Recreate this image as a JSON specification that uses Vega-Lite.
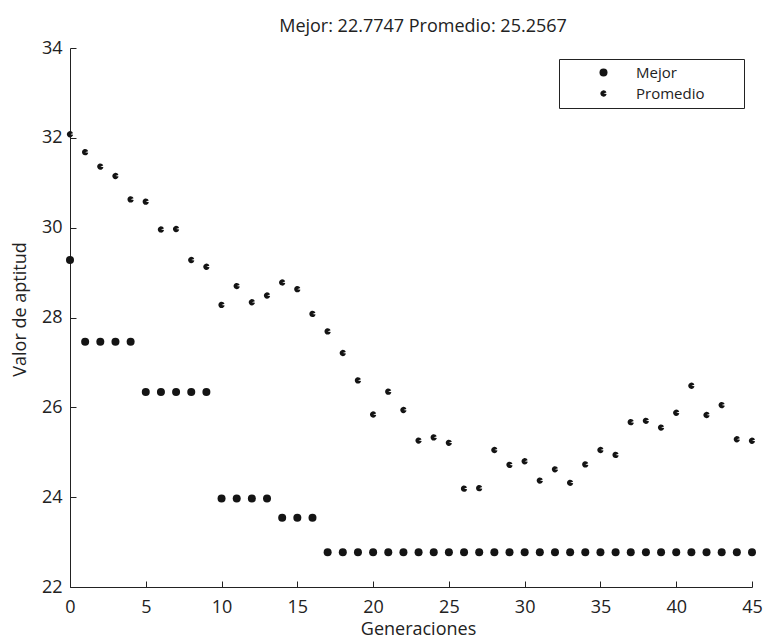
{
  "$schema": "https://vega.github.io/schema/vega-lite/v6.json",
  "autosize": {"type": "none"},
  "width": 682,
  "height": 539,
  "padding": {"left": 70, "top": 48, "right": 11, "bottom": 51},
  "background": "white",
  "title": {
    "text": "Mejor: 22.7747 Promedio: 25.2567",
    "anchor": "middle",
    "dx": 12,
    "offset": 3,
    "font": "Open Sans",
    "fontSize": 18,
    "fontWeight": "normal",
    "color": "#222"
  },
  "data": {
    "values": [
      {"gen": 0, "valor": 29.28, "serie": "Mejor"},
      {"gen": 1, "valor": 27.46, "serie": "Mejor"},
      {"gen": 2, "valor": 27.46, "serie": "Mejor"},
      {"gen": 3, "valor": 27.46, "serie": "Mejor"},
      {"gen": 4, "valor": 27.46, "serie": "Mejor"},
      {"gen": 5, "valor": 26.34, "serie": "Mejor"},
      {"gen": 6, "valor": 26.34, "serie": "Mejor"},
      {"gen": 7, "valor": 26.34, "serie": "Mejor"},
      {"gen": 8, "valor": 26.34, "serie": "Mejor"},
      {"gen": 9, "valor": 26.34, "serie": "Mejor"},
      {"gen": 10, "valor": 23.97, "serie": "Mejor"},
      {"gen": 11, "valor": 23.97, "serie": "Mejor"},
      {"gen": 12, "valor": 23.97, "serie": "Mejor"},
      {"gen": 13, "valor": 23.97, "serie": "Mejor"},
      {"gen": 14, "valor": 23.54, "serie": "Mejor"},
      {"gen": 15, "valor": 23.54, "serie": "Mejor"},
      {"gen": 16, "valor": 23.54, "serie": "Mejor"},
      {"gen": 17, "valor": 22.7747, "serie": "Mejor"},
      {"gen": 18, "valor": 22.7747, "serie": "Mejor"},
      {"gen": 19, "valor": 22.7747, "serie": "Mejor"},
      {"gen": 20, "valor": 22.7747, "serie": "Mejor"},
      {"gen": 21, "valor": 22.7747, "serie": "Mejor"},
      {"gen": 22, "valor": 22.7747, "serie": "Mejor"},
      {"gen": 23, "valor": 22.7747, "serie": "Mejor"},
      {"gen": 24, "valor": 22.7747, "serie": "Mejor"},
      {"gen": 25, "valor": 22.7747, "serie": "Mejor"},
      {"gen": 26, "valor": 22.7747, "serie": "Mejor"},
      {"gen": 27, "valor": 22.7747, "serie": "Mejor"},
      {"gen": 28, "valor": 22.7747, "serie": "Mejor"},
      {"gen": 29, "valor": 22.7747, "serie": "Mejor"},
      {"gen": 30, "valor": 22.7747, "serie": "Mejor"},
      {"gen": 31, "valor": 22.7747, "serie": "Mejor"},
      {"gen": 32, "valor": 22.7747, "serie": "Mejor"},
      {"gen": 33, "valor": 22.7747, "serie": "Mejor"},
      {"gen": 34, "valor": 22.7747, "serie": "Mejor"},
      {"gen": 35, "valor": 22.7747, "serie": "Mejor"},
      {"gen": 36, "valor": 22.7747, "serie": "Mejor"},
      {"gen": 37, "valor": 22.7747, "serie": "Mejor"},
      {"gen": 38, "valor": 22.7747, "serie": "Mejor"},
      {"gen": 39, "valor": 22.7747, "serie": "Mejor"},
      {"gen": 40, "valor": 22.7747, "serie": "Mejor"},
      {"gen": 41, "valor": 22.7747, "serie": "Mejor"},
      {"gen": 42, "valor": 22.7747, "serie": "Mejor"},
      {"gen": 43, "valor": 22.7747, "serie": "Mejor"},
      {"gen": 44, "valor": 22.7747, "serie": "Mejor"},
      {"gen": 45, "valor": 22.7747, "serie": "Mejor"},
      {"gen": 0, "valor": 32.08, "serie": "Promedio"},
      {"gen": 1, "valor": 31.68, "serie": "Promedio"},
      {"gen": 2, "valor": 31.36, "serie": "Promedio"},
      {"gen": 3, "valor": 31.15, "serie": "Promedio"},
      {"gen": 4, "valor": 30.63, "serie": "Promedio"},
      {"gen": 5, "valor": 30.58, "serie": "Promedio"},
      {"gen": 6, "valor": 29.96, "serie": "Promedio"},
      {"gen": 7, "valor": 29.97, "serie": "Promedio"},
      {"gen": 8, "valor": 29.28, "serie": "Promedio"},
      {"gen": 9, "valor": 29.13, "serie": "Promedio"},
      {"gen": 10, "valor": 28.28, "serie": "Promedio"},
      {"gen": 11, "valor": 28.70, "serie": "Promedio"},
      {"gen": 12, "valor": 28.34, "serie": "Promedio"},
      {"gen": 13, "valor": 28.49, "serie": "Promedio"},
      {"gen": 14, "valor": 28.78, "serie": "Promedio"},
      {"gen": 15, "valor": 28.63, "serie": "Promedio"},
      {"gen": 16, "valor": 28.08, "serie": "Promedio"},
      {"gen": 17, "valor": 27.69, "serie": "Promedio"},
      {"gen": 18, "valor": 27.21, "serie": "Promedio"},
      {"gen": 19, "valor": 26.60, "serie": "Promedio"},
      {"gen": 20, "valor": 25.84, "serie": "Promedio"},
      {"gen": 21, "valor": 26.35, "serie": "Promedio"},
      {"gen": 22, "valor": 25.94, "serie": "Promedio"},
      {"gen": 23, "valor": 25.26, "serie": "Promedio"},
      {"gen": 24, "valor": 25.33, "serie": "Promedio"},
      {"gen": 25, "valor": 25.21, "serie": "Promedio"},
      {"gen": 26, "valor": 24.19, "serie": "Promedio"},
      {"gen": 27, "valor": 24.20, "serie": "Promedio"},
      {"gen": 28, "valor": 25.05, "serie": "Promedio"},
      {"gen": 29, "valor": 24.72, "serie": "Promedio"},
      {"gen": 30, "valor": 24.80, "serie": "Promedio"},
      {"gen": 31, "valor": 24.37, "serie": "Promedio"},
      {"gen": 32, "valor": 24.62, "serie": "Promedio"},
      {"gen": 33, "valor": 24.32, "serie": "Promedio"},
      {"gen": 34, "valor": 24.73, "serie": "Promedio"},
      {"gen": 35, "valor": 25.05, "serie": "Promedio"},
      {"gen": 36, "valor": 24.94, "serie": "Promedio"},
      {"gen": 37, "valor": 25.67, "serie": "Promedio"},
      {"gen": 38, "valor": 25.70, "serie": "Promedio"},
      {"gen": 39, "valor": 25.55, "serie": "Promedio"},
      {"gen": 40, "valor": 25.88, "serie": "Promedio"},
      {"gen": 41, "valor": 26.48, "serie": "Promedio"},
      {"gen": 42, "valor": 25.83, "serie": "Promedio"},
      {"gen": 43, "valor": 26.05, "serie": "Promedio"},
      {"gen": 44, "valor": 25.29, "serie": "Promedio"},
      {"gen": 45, "valor": 25.2567, "serie": "Promedio"}
    ]
  },
  "mark": {"type": "point", "filled": true, "opacity": 1, "clip": false, "strokeWidth": 0},
  "encoding": {
    "x": {
      "field": "gen",
      "type": "quantitative",
      "scale": {"domain": [0, 45], "nice": false, "zero": false},
      "axis": {
        "title": "Generaciones",
        "values": [0, 5, 10, 15, 20, 25, 30, 35, 40, 45],
        "grid": false,
        "tickSize": -6,
        "labelPadding": 17,
        "labelFlush": false,
        "titlePadding": 4,
        "titleX": 348
      }
    },
    "y": {
      "field": "valor",
      "type": "quantitative",
      "scale": {"domain": [22, 34], "nice": false, "zero": false},
      "axis": {
        "title": "Valor de aptitud",
        "values": [22, 24, 26, 28, 30, 32, 34],
        "grid": false,
        "tickSize": -6,
        "labelPadding": 14,
        "labelFlush": false,
        "titlePadding": 12,
        "titleY": 261
      }
    },
    "shape": {
      "field": "serie",
      "type": "nominal",
      "scale": {
        "domain": ["Mejor", "Promedio"],
        "range": ["circle", "M0,0L0.985,0.174A1,1,0,1,1,0.94,-0.342Z"]
      },
      "legend": {
        "title": null,
        "orient": "none",
        "legendX": 489,
        "legendY": 11,
        "padding": 6,
        "strokeColor": "#222",
        "fillColor": "white",
        "symbolOffset": 31,
        "labelOffset": 25,
        "labelFontSize": 15,
        "labelFont": "Open Sans",
        "labelColor": "#222",
        "rowPadding": 5,
        "labelExpr": "datum.label + '\u2800\u2800\u2800'"
      }
    },
    "size": {
      "field": "serie",
      "type": "nominal",
      "scale": {"domain": ["Mejor", "Promedio"], "range": [64, 40]}
    },
    "color": {
      "field": "serie",
      "type": "nominal",
      "scale": {"domain": ["Mejor", "Promedio"], "range": ["#141414", "#141414"]}
    }
  },
  "config": {
    "font": "Open Sans",
    "view": {"stroke": null},
    "axis": {
      "domainColor": "#222",
      "domainWidth": 1,
      "tickColor": "#222",
      "tickWidth": 1,
      "labelFont": "Open Sans",
      "labelFontSize": 18,
      "labelColor": "#222",
      "titleFont": "Open Sans",
      "titleFontSize": 18,
      "titleFontWeight": "normal",
      "titleColor": "#222"
    }
  }
}
